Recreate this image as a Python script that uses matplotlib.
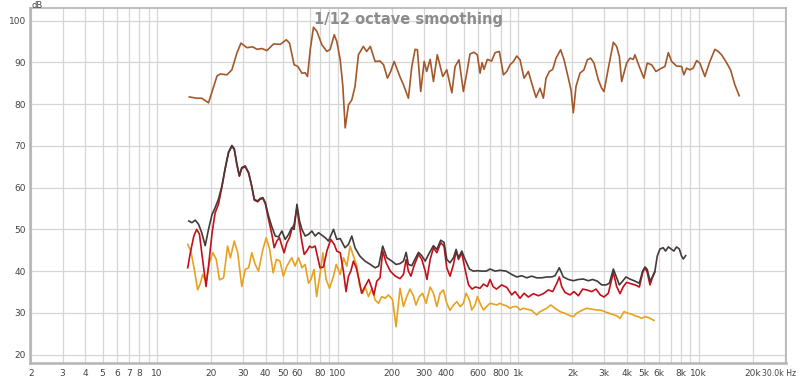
import matplotlib
matplotlib.use("Agg")
import matplotlib.pyplot as plt
import matplotlib.transforms as mtransforms
from matplotlib.ticker import FixedLocator, NullFormatter

# (Hz, dB) pairs, one list per trace
top_trace = [
    (15.1, 81.7), (16.6, 81.4), (17.7, 81.4), (19.3, 80.3), (20.6, 84.2), (21.5, 86.7),
    (22.4, 87.2), (24.4, 87.0), (26.0, 88.2), (27.7, 92.2), (29.2, 94.6), (31.5, 93.5),
    (33.9, 93.7), (35.8, 93.1), (38.1, 93.3), (40.6, 92.8), (44.3, 94.4), (48.2, 94.3),
    (52.0, 95.4), (54.2, 94.6), (57.5, 89.4), (60.3, 89.0), (63.5, 87.4), (66.2, 87.5),
    (68.2, 86.6), (70.6, 93.0), (73.6, 98.4), (76.9, 97.4), (81.9, 94.2), (87.3, 92.6),
    (91.1, 93.1), (95.9, 96.6), (99.1, 95.0), (103.5, 90.6), (107.1, 84.2), (110.3, 74.3),
    (115, 79.8), (120, 81.0), (125, 84.2), (130.6, 91.8), (139, 93.8), (145, 92.6),
    (152, 93.8), (161.5, 90.2), (172, 90.3), (180, 89.4), (189, 86.2), (197, 87.8),
    (206, 90.2), (222, 86.5), (232, 84.6), (247, 81.4), (258, 89.0), (269, 93.1),
    (277, 93.0), (289, 83.0), (302, 90.2), (312, 87.8), (326, 90.7), (340, 85.4),
    (357, 91.8), (383, 86.6), (403, 88.2), (430, 82.7), (448, 89.0), (471, 90.6),
    (498, 83.0), (520, 87.4), (542, 92.0), (570, 92.4), (595, 91.8), (616, 87.4),
    (632, 89.9), (648, 88.3), (676, 90.7), (714, 90.3), (746, 92.3), (788, 92.6),
    (830, 87.0), (866, 87.8), (903, 89.4), (943, 90.2), (984, 91.5), (1026, 90.6),
    (1080, 86.2), (1141, 87.8), (1190, 85.0), (1258, 81.6), (1324, 83.8), (1381, 81.4),
    (1429, 86.2), (1491, 87.8), (1556, 88.3), (1624, 91.0), (1722, 93.0), (1798, 90.6),
    (1900, 86.2), (1965, 83.4), (2024, 77.9), (2094, 84.2), (2203, 87.4), (2317, 88.2),
    (2420, 90.6), (2525, 91.0), (2636, 89.8), (2785, 85.8), (2905, 83.8), (2993, 83.0),
    (3164, 88.6), (3373, 94.8), (3518, 93.8), (3641, 91.4), (3750, 85.4), (3994, 89.8),
    (4168, 91.0), (4348, 90.7), (4440, 91.8), (4732, 88.6), (4977, 86.2), (5196, 89.8),
    (5495, 89.4), (5806, 87.8), (6240, 88.6), (6512, 89.0), (6799, 92.3), (7093, 90.2),
    (7554, 89.1), (8050, 89.0), (8294, 87.0), (8582, 88.6), (8953, 88.2), (9340, 88.6),
    (9750, 90.4), (10170, 89.8), (10840, 86.6), (11460, 89.8), (12310, 93.1), (12850, 92.6),
    (13400, 91.8), (14160, 90.2), (15030, 88.2), (15890, 84.6), (16790, 82.0),
]

dark_trace = [
    (15.0, 52.0), (15.6, 51.6), (16.3, 52.2), (17.0, 51.2), (17.7, 49.2), (18.5, 46.1),
    (19.3, 50.0), (20.2, 53.6), (21.0, 55.2), (21.9, 57.2), (22.9, 60.4), (23.9, 64.8),
    (24.9, 68.5), (26.0, 70.1), (26.8, 69.3), (27.7, 65.7), (28.6, 62.9), (29.5, 64.8),
    (30.8, 65.2), (32.2, 63.6), (33.5, 60.4), (34.6, 57.2), (36.1, 56.8), (37.3, 57.4),
    (38.6, 57.6), (39.8, 56.4), (41.5, 53.2), (43.3, 50.6), (45.2, 48.4), (47.1, 48.2),
    (49.2, 49.6), (51.3, 47.6), (53.6, 48.8), (55.8, 50.4), (57.5, 50.0), (59.6, 56.0),
    (61.6, 52.0), (63.5, 50.0), (66.2, 48.4), (69.1, 48.8), (72.1, 49.6), (75.2, 48.4),
    (78.5, 49.2), (85.5, 48.0), (89.1, 47.2), (95.0, 50.0), (99.1, 47.6), (103.5, 47.8),
    (110, 45.6), (115, 46.4), (120, 48.4), (125, 45.6), (133, 43.6), (142, 42.4),
    (152, 41.6), (161.5, 40.8), (169, 41.2), (178, 46.0), (187.5, 43.2), (200, 42.4),
    (211, 41.6), (222, 41.8), (232, 42.4), (240, 44.5), (247, 41.6), (258, 41.3),
    (269, 42.9), (281, 44.5), (293, 43.7), (306, 42.4), (323, 44.4), (340, 46.1),
    (355, 45.2), (373, 47.4), (389, 46.9), (403, 42.8), (420, 42.0), (439, 43.2),
    (454, 45.2), (468, 43.2), (488, 44.8), (509, 42.8), (538, 40.5), (566, 40.0),
    (596, 40.1), (630, 40.0), (666, 40.0), (700, 40.5), (746, 40.0), (795, 40.2),
    (859, 40.0), (923, 39.2), (984, 38.6), (1048, 38.9), (1117, 38.4), (1190, 38.8),
    (1268, 38.4), (1352, 38.4), (1441, 38.6), (1535, 38.6), (1603, 38.9), (1693, 40.8),
    (1781, 38.6), (1900, 38.0), (2024, 37.7), (2158, 38.0), (2300, 38.1), (2450, 37.7),
    (2590, 38.0), (2750, 37.6), (2905, 36.7), (3070, 36.7), (3205, 37.1), (3373, 40.5),
    (3518, 38.4), (3641, 36.7), (3796, 37.6), (3961, 38.6), (4168, 38.1), (4444, 37.6),
    (4697, 37.1), (4900, 40.0), (5050, 41.0), (5196, 40.4), (5380, 37.6), (5546, 38.6),
    (5730, 40.0), (5904, 43.6), (6110, 45.3), (6370, 45.6), (6565, 44.8), (6800, 45.8),
    (7095, 45.2), (7300, 44.8), (7554, 45.8), (7820, 45.3), (8050, 43.6), (8230, 42.9),
    (8480, 43.7),
]

red_trace = [
    (14.8, 40.8), (15.3, 44.4), (16.0, 48.4), (16.6, 50.0), (17.2, 48.8), (17.7, 44.4),
    (18.3, 39.6), (18.7, 36.3), (19.3, 41.2), (20.2, 49.2), (21.0, 54.0), (21.9, 56.0),
    (22.9, 60.2), (23.9, 64.6), (24.9, 68.3), (26.0, 69.9), (26.8, 69.1), (27.7, 65.5),
    (28.6, 62.7), (29.5, 64.6), (30.8, 65.0), (32.2, 63.4), (33.5, 60.2), (34.6, 57.0),
    (36.1, 56.6), (37.3, 57.2), (38.6, 57.4), (39.8, 56.2), (41.5, 52.4), (43.3, 48.8),
    (44.6, 45.6), (46.1, 47.2), (47.7, 48.0), (49.2, 46.0), (50.6, 44.4), (52.4, 46.8),
    (54.2, 48.0), (55.8, 50.0), (57.5, 51.2), (59.6, 55.2), (61.6, 50.8), (63.5, 47.0),
    (65.4, 44.0), (67.6, 44.8), (70.1, 46.0), (72.1, 45.6), (75.2, 46.0), (77.4, 43.6),
    (80.0, 40.8), (83.6, 41.0), (87.3, 44.8), (91.8, 47.6), (95.9, 46.4), (99.1, 44.8),
    (103.5, 44.4), (107.8, 40.0), (111.5, 35.1), (115, 38.8), (118.5, 40.0), (122.5, 42.4),
    (127, 40.8), (132, 37.6), (136, 34.7), (142, 36.3), (149, 38.0), (155, 35.9),
    (159, 34.3), (165, 37.6), (172, 38.4), (178, 44.8), (186, 42.0), (196, 40.0),
    (209, 38.8), (222, 38.2), (232, 39.2), (240, 42.8), (247, 40.0), (255, 38.8),
    (265, 41.2), (281, 44.0), (293, 42.8), (306, 40.0), (313, 38.0), (326, 42.8),
    (340, 45.6), (355, 44.4), (373, 46.8), (389, 46.0), (403, 40.8), (420, 38.8),
    (439, 41.6), (454, 44.8), (468, 42.8), (488, 44.4), (509, 40.4), (532, 36.7),
    (556, 35.7), (580, 36.2), (616, 35.9), (643, 36.9), (676, 36.3), (700, 38.0),
    (727, 36.3), (760, 35.7), (811, 36.7), (866, 36.1), (923, 34.3), (963, 35.1),
    (1026, 33.5), (1080, 34.7), (1141, 33.8), (1216, 34.6), (1296, 34.1), (1381, 34.6),
    (1472, 35.5), (1556, 35.1), (1640, 37.1), (1693, 38.6), (1745, 36.3), (1820, 34.9),
    (1940, 34.3), (2042, 35.1), (2158, 34.1), (2281, 35.7), (2400, 35.5), (2560, 35.1),
    (2703, 35.7), (2856, 34.3), (2993, 33.8), (3164, 34.7), (3373, 39.7), (3518, 36.3),
    (3673, 34.6), (3830, 36.3), (3994, 37.3), (4205, 37.0), (4444, 36.7), (4697, 36.2),
    (4900, 39.6), (5050, 40.8), (5196, 39.7), (5380, 36.7), (5546, 38.4), (5730, 39.8),
]

orange_trace = [
    (14.8, 46.4), (15.4, 44.8), (16.1, 40.4), (16.8, 35.5), (17.4, 37.1), (17.9, 39.2),
    (18.7, 37.6), (19.5, 42.0), (20.4, 44.4), (21.3, 42.8), (22.2, 37.9), (23.4, 38.4),
    (24.6, 46.0), (25.5, 43.2), (26.8, 47.2), (28.0, 44.4), (29.5, 36.3), (30.8, 40.4),
    (32.2, 40.8), (33.5, 44.4), (35.0, 41.6), (36.5, 40.0), (38.6, 45.2), (40.3, 48.0),
    (42.1, 45.2), (44.0, 39.6), (45.9, 42.8), (48.0, 42.4), (50.1, 38.8), (52.4, 41.2),
    (55.8, 43.2), (58.2, 41.2), (60.8, 43.2), (63.5, 40.8), (66.2, 41.6), (69.1, 37.1),
    (71.3, 38.0), (74.1, 40.4), (76.6, 33.9), (80.2, 39.6), (83, 44.4), (86.5, 38.0),
    (90.3, 35.9), (95, 38.8), (98.4, 41.6), (103.5, 39.2), (108, 43.2), (112.6, 41.2),
    (117.5, 46.0), (121.6, 44.0), (128, 41.2), (132.4, 36.7), (138, 34.7), (142, 36.3),
    (148.5, 33.9), (155, 35.9), (161.5, 33.1), (168.6, 32.3), (176, 33.9), (183.5, 33.5),
    (191.5, 34.3), (202, 33.1), (211, 26.7), (217.6, 32.3), (222, 35.9), (232, 31.5),
    (242, 33.9), (252, 35.7), (263, 34.1), (272, 31.9), (284, 33.9), (296, 34.7),
    (309.5, 32.3), (326, 36.2), (340, 34.7), (355, 31.5), (370, 34.7), (386, 35.5),
    (403, 32.3), (420, 30.6), (439, 31.9), (458, 32.7), (478, 31.5), (498, 32.3),
    (515, 34.7), (538, 33.1), (554, 30.7), (578, 31.9), (596, 33.9), (616, 32.3),
    (643, 30.7), (676, 31.7), (700, 32.3), (730, 32.1), (762, 31.9), (795, 32.3),
    (829, 31.9), (866, 31.7), (903, 31.1), (943, 31.5), (984, 31.5), (1026, 30.7),
    (1071, 31.1), (1117, 30.9), (1190, 30.6), (1268, 29.5), (1324, 30.3), (1381, 30.7),
    (1441, 31.1), (1517, 31.9), (1603, 31.1), (1708, 30.3), (1820, 29.9), (1940, 29.3),
    (2024, 29.1), (2112, 29.9), (2251, 30.6), (2400, 31.1), (2560, 30.9), (2725, 30.7),
    (2905, 30.6), (3096, 30.1), (3300, 29.7), (3518, 29.3), (3673, 28.7), (3864, 30.3),
    (4082, 29.9), (4259, 29.7), (4444, 29.3), (4636, 29.1), (4834, 28.7), (5050, 29.1),
    (5260, 28.9), (5495, 28.5), (5660, 28.2),
]

x_ticks = [2, 3, 4, 5, 6, 7, 8, 10, 20, 30, 40, 50, 60, 80, 100, 200, 300, 400, 600, 800,
           1000, 2000, 3000, 4000, 5000, 6000, 8000, 10000, 20000, 30000]
x_tick_labels = ["2", "3", "4", "5", "6", "7", "8", "10", "20", "30", "40", "50", "60", "80",
                 "100", "200", "300", "400", "600", "800", "1k", "2k", "3k", "4k", "5k", "6k",
                 "8k", "10k", "20k", "30.0k Hz"]
y_ticks = [20, 30, 40, 50, 60, 70, 80, 90, 100]

fig = plt.figure(figsize=(8, 3.76), dpi=100)
ax = fig.add_axes([30 / 800, 13 / 376, 756 / 800, 355 / 376])

ax.set_xscale("log")
ax.set_xlim(1.98, 30500)
ax.set_ylim(18, 103)

# grid: every 1..9 in each decade plus 10 dB steps
grid_lines = [m * 10 ** d for d in range(0, 5) for m in range(1, 10)]
for g in grid_lines:
    if 1.98 < g < 30500:
        ax.axvline(g, color="#d6d6d6", lw=0.9, zorder=0)
for yv in y_ticks:
    ax.axhline(yv, color="#d6d6d6", lw=0.9, zorder=0)

ax.xaxis.set_major_locator(FixedLocator(x_ticks))
ax.xaxis.set_minor_locator(FixedLocator([]))
ax.set_xticklabels(x_tick_labels)
ax.xaxis.set_minor_formatter(NullFormatter())
ax.set_yticks(y_ticks)
ax.tick_params(axis="both", length=0, labelsize=6.5, colors="#444444", pad=3)
ax.tick_params(axis="x", pad=4)

# last label "30.0k Hz" is squeezed in at the right edge, ending just past the frame
last = ax.get_xticklabels()[-1]
last.set_fontsize(5.6)
last.set_horizontalalignment("right")
last.set_transform(last.get_transform() + mtransforms.ScaledTranslation(11 / 100, 0, fig.dpi_scale_trans))

for s in ax.spines.values():
    s.set_color("#b4b4b4")
    s.set_linewidth(1.2)
ax.spines["left"].set_linewidth(1.8)
ax.spines["bottom"].set_linewidth(1.8)

ax.text(0.5, 0.99, "1/12 octave smoothing", transform=ax.transAxes, ha="center", va="top",
        fontsize=10.5, fontweight="bold", color="#8c8c8c", zorder=1)
fig.text(37 / 800, 1 - 5 / 376, "dB", ha="center", va="center", fontsize=6, color="#444444")


def draw(trace, color, z):
    hz = [p[0] for p in trace]
    db = [p[1] for p in trace]
    ax.plot(hz, db, color=color, lw=1.2, zorder=z, solid_joinstyle="round")


draw(orange_trace, "#e8a21e", 3)
draw(red_trace, "#c4101a", 4)
draw(dark_trace, "#453a3a", 5)
draw(top_trace, "#a3582a", 6)

fig.savefig("out.png", dpi=100)
